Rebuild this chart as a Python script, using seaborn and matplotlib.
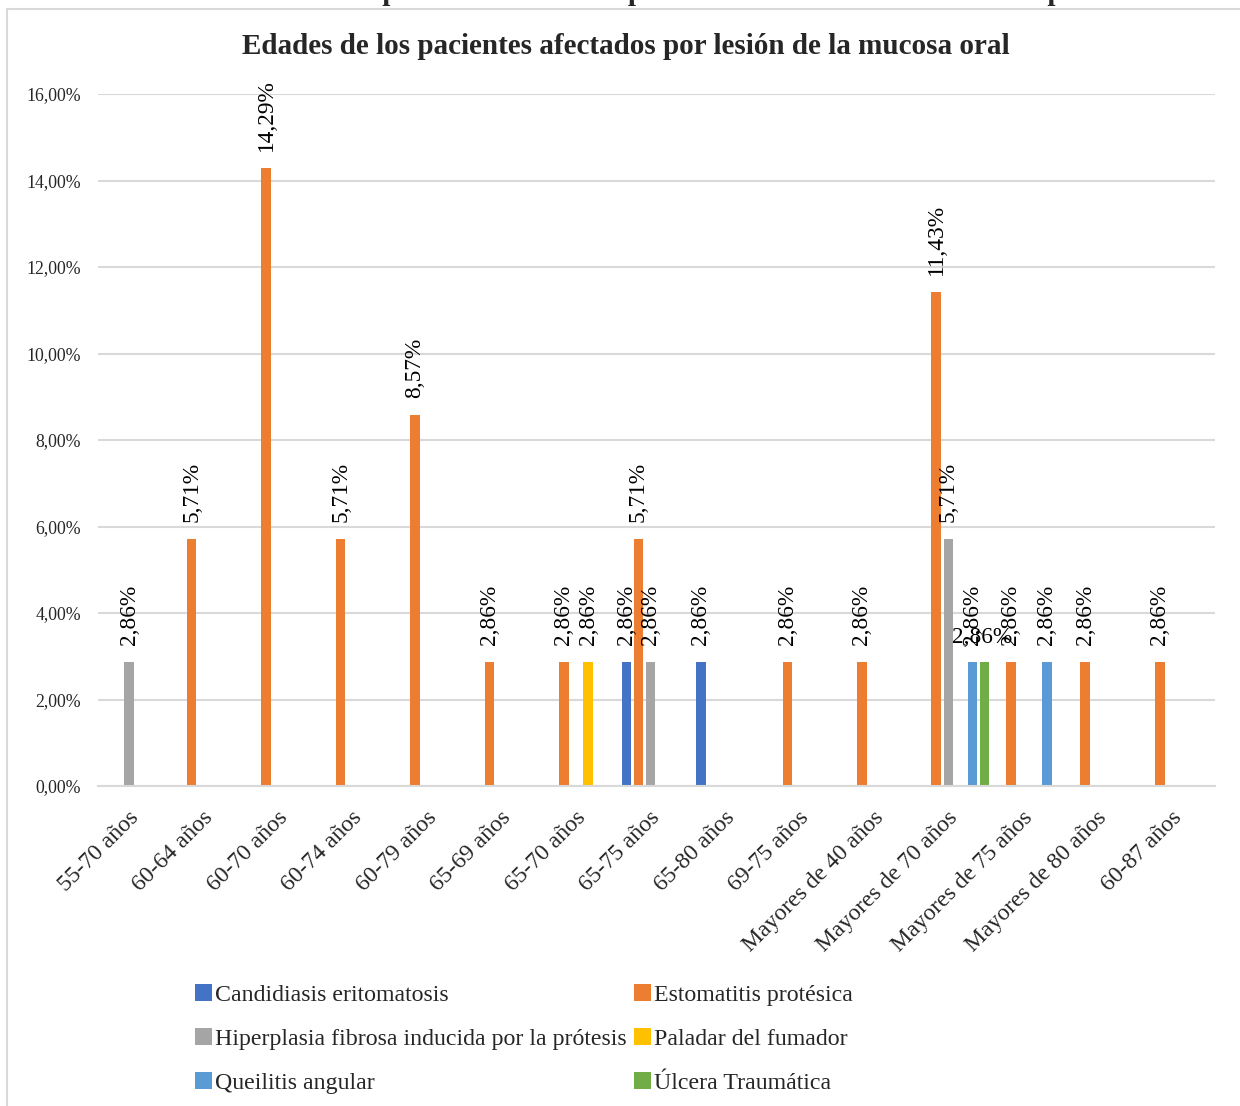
import matplotlib
matplotlib.use("Agg")
import matplotlib.pyplot as plt
import matplotlib.transforms as mtransforms
from matplotlib.patches import Rectangle, Patch
import seaborn as sns
import pandas as pd

# ---------------- data ----------------
categories = ["55-70 años", "60-64 años", "60-70 años", "60-74 años", "60-79 años",
              "65-69 años", "65-70 años", "65-75 años", "65-80 años", "69-75 años",
              "Mayores de 40 años", "Mayores de 70 años", "Mayores de 75 años",
              "Mayores de 80 años", "60-87 años"]
series = ["Candidiasis eritomatosis", "Estomatitis protésica",
          "Hiperplasia fibrosa inducida por la prótesis", "Paladar del fumador",
          "Queilitis angular", "Úlcera Traumática"]
colors = ["#4472C4", "#ED7D31", "#A5A5A5", "#FFC000", "#5B9BD5", "#70AD47"]

candidiasis = [0, 0, 0, 0, 0, 0, 0, 2.86, 2.86, 0, 0, 0, 0, 0, 0]
estomatitis = [0, 5.71, 14.29, 5.71, 8.57, 2.86, 2.86, 5.71, 0, 2.86, 2.86, 11.43, 2.86, 2.86, 2.86]
hiperplasia = [2.86, 0, 0, 0, 0, 0, 0, 2.86, 0, 0, 0, 5.71, 0, 0, 0]
paladar = [0, 0, 0, 0, 0, 0, 2.86, 0, 0, 0, 0, 0, 0, 0, 0]
queilitis = [0, 0, 0, 0, 0, 0, 0, 0, 0, 0, 0, 2.86, 2.86, 0, 0]
ulcera = [0, 0, 0, 0, 0, 0, 0, 0, 0, 0, 0, 2.86, 0, 0, 0]

yticks = [0, 2, 4, 6, 8, 10, 12, 14, 16]
title = "Edades de los pacientes afectados por lesión de la mucosa oral"
header = "Gráfico N°. 3: Edad de los pacientes afectados por las lesiones de la mucosa oral por"

values = [candidiasis, estomatitis, hiperplasia, paladar, queilitis, ulcera]
rows = []
for s, vals in zip(series, values):
    for c, v in zip(categories, vals):
        if v > 0:
            rows.append({"cat": c, "serie": s, "val": v})
df = pd.DataFrame(rows)

# ---------------- figure ----------------
sns.set_theme(style="white")
plt.rcParams["font.family"] = ["Liberation Serif", "DejaVu Serif"]

W, H = 1240, 1106
fig = plt.figure(figsize=(W / 100, H / 100), dpi=100)
ax = fig.add_axes([98 / W, 1 - 786 / H, (1215 - 98) / W, (786 - 94) / H])

sns.barplot(data=df, x="cat", y="val", hue="serie", order=categories,
            hue_order=series, palette=colors, width=0.97, gap=0.2,
            dodge=True, linewidth=0, saturation=1, ax=ax, legend=False)

ax.set_ylim(0, 16)
ax.set_xlim(-0.5, len(categories) - 0.5)
ax.set_yticks(yticks)
ax.set_yticklabels([f"{t:.2f}".replace(".", ",") + "%" for t in yticks], fontsize=12.8)
ax.yaxis.grid(True, color="#d9d9d9", linewidth=1.5)
ax.set_axisbelow(True)
for sp in ["top", "right", "left"]:
    ax.spines[sp].set_visible(False)
ax.spines["bottom"].set_color("#d9d9d9")
ax.spines["bottom"].set_linewidth(1.5)
ax.tick_params(axis="y", length=0, pad=12)
ax.tick_params(axis="x", length=0, pad=15)
ax.set_xlabel("")
ax.set_ylabel("")

ax.set_xticks(range(len(categories)))
ax.set_xticklabels(categories, rotation=45, ha="right", va="top",
                   rotation_mode="anchor", fontsize=17)
offset = mtransforms.ScaledTranslation(-7 / 100, 0, fig.dpi_scale_trans)
for lbl in ax.get_xticklabels():
    lbl.set_transform(lbl.get_transform() + offset)

# data labels
for si, cont in enumerate(ax.containers):
    for bar in cont:
        h = bar.get_height()
        if h is None or h <= 0 or pd.isna(h):
            continue
        txt = f"{h:.2f}".replace(".", ",") + "%"
        xc = bar.get_x() + bar.get_width() / 2
        if series[si] == "Úlcera Traumática":
            ax.annotate(txt, (xc, h), xytext=(-2, 14), textcoords="offset pixels",
                        ha="center", va="bottom", fontsize=16.8, color="black")
        else:
            ax.annotate(txt, (xc, h), xytext=(0, 17), textcoords="offset pixels",
                        ha="center", va="bottom", rotation=90, fontsize=16.8,
                        color="black")

# title and cut-off header
fig.text(626 / W, 1 - 47 / H, title, ha="center", va="center",
         fontsize=21, fontweight="bold")
fig.text(50 / W, 1 + 7 / H, header, ha="left", va="center",
         fontsize=21, fontweight="bold")

# chart border
fig.patches.append(Rectangle((7 / W, -0.05), 1.2, 1 - 9 / H + 0.05,
                             transform=fig.transFigure, fill=False,
                             edgecolor="#d9d9d9", linewidth=1.5, zorder=0))

# legend (row-wise order in 2 columns)
handles = [Patch(facecolor=c, edgecolor="none") for c in colors]
order = [0, 2, 4, 1, 3, 5]
fig.legend([handles[i] for i in order], [series[i] for i in order],
           ncol=2, loc="upper left", bbox_to_anchor=(195 / W, 1 - 984 / H),
           frameon=False, fontsize=17.2, handlelength=0.7, handleheight=0.7,
           handletextpad=0.15, columnspacing=0.3, labelspacing=0.93,
           borderpad=0, borderaxespad=0)

fig.savefig("out.png", dpi=100, facecolor="white")
